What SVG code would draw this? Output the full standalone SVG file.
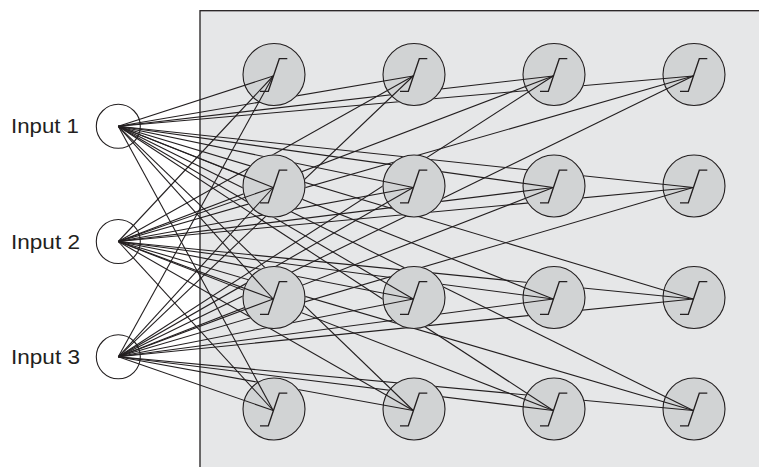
<svg xmlns="http://www.w3.org/2000/svg" xmlns:xlink="http://www.w3.org/1999/xlink" width="759" height="467" viewBox="0 0 759 467">
<style>
.box{fill:#e6e7e8;stroke:#231f20;stroke-width:1.3}
.input{fill:#ffffff;stroke:#231f20;stroke-width:1.1}
.neuron{fill:#d1d3d4;stroke:#231f20;stroke-width:1.1}
.sig{fill:none;stroke:#231f20;stroke-width:1.3}
.lbl{font-family:"Liberation Sans",Arial,sans-serif;font-size:21px;fill:#231f20}
.conn line{stroke:#231f20;stroke-width:1.1}
</style>
<defs>
<path id="sig" class="sig" d="M-14,16.8 H-5.7 L5.3,-15.8 H13.3"/>
<mask id="m2" maskUnits="userSpaceOnUse" x="0" y="0" width="759" height="467">
<rect x="0" y="0" width="759" height="467" fill="#fff"/>
<g fill="#000"><circle cx="274" cy="74.5" r="31.5"/><circle cx="274" cy="186" r="31.5"/><circle cx="274" cy="297.5" r="31.5"/><circle cx="274" cy="409" r="31.5"/></g>
</mask>
<mask id="m3" maskUnits="userSpaceOnUse" x="0" y="0" width="759" height="467">
<rect x="0" y="0" width="759" height="467" fill="#fff"/>
<g fill="#000"><circle cx="274" cy="74.5" r="31.5"/><circle cx="274" cy="186" r="31.5"/><circle cx="274" cy="297.5" r="31.5"/><circle cx="274" cy="409" r="31.5"/>
<circle cx="414" cy="74.5" r="31.5"/><circle cx="414" cy="186" r="31.5"/><circle cx="414" cy="297.5" r="31.5"/><circle cx="414" cy="409" r="31.5"/></g>
</mask>
<mask id="m4" maskUnits="userSpaceOnUse" x="0" y="0" width="759" height="467">
<rect x="0" y="0" width="759" height="467" fill="#fff"/>
<g fill="#000"><circle cx="274" cy="74.5" r="31.5"/><circle cx="274" cy="186" r="31.5"/><circle cx="274" cy="297.5" r="31.5"/><circle cx="274" cy="409" r="31.5"/>
<circle cx="414" cy="74.5" r="31.5"/><circle cx="414" cy="186" r="31.5"/><circle cx="414" cy="297.5" r="31.5"/><circle cx="414" cy="409" r="31.5"/>
<circle cx="554" cy="74.5" r="31.5"/><circle cx="554" cy="186" r="31.5"/><circle cx="554" cy="297.5" r="31.5"/><circle cx="554" cy="409" r="31.5"/></g>
</mask>
</defs>
<rect id="layer-box" class="box" x="200" y="10.7" width="600" height="500"/>
<g id="inputs">
<g id="input-1"><circle class="input" cx="118.3" cy="126.3" r="22"/><text class="lbl" x="11" y="133.3" textLength="68" lengthAdjust="spacingAndGlyphs">Input 1</text></g>
<g id="input-2"><circle class="input" cx="118.3" cy="241.5" r="22"/><text class="lbl" x="11" y="249" textLength="69" lengthAdjust="spacingAndGlyphs">Input 2</text></g>
<g id="input-3"><circle class="input" cx="118.3" cy="356.8" r="22"/><text class="lbl" x="11" y="363.5" textLength="69" lengthAdjust="spacingAndGlyphs">Input 3</text></g>
</g>
<g id="neurons">
<g id="n-c1-r1"><circle class="neuron" cx="274" cy="74.5" r="31"/><use xlink:href="#sig" href="#sig" transform="translate(274,74.5)"/></g>
<g id="n-c1-r2"><circle class="neuron" cx="274" cy="186" r="31"/><use xlink:href="#sig" href="#sig" transform="translate(274,186)"/></g>
<g id="n-c1-r3"><circle class="neuron" cx="274" cy="297.5" r="31"/><use xlink:href="#sig" href="#sig" transform="translate(274,297.5)"/></g>
<g id="n-c1-r4"><circle class="neuron" cx="274" cy="409" r="31"/><use xlink:href="#sig" href="#sig" transform="translate(274,409)"/></g>
<g id="n-c2-r1"><circle class="neuron" cx="414" cy="74.5" r="31"/><use xlink:href="#sig" href="#sig" transform="translate(414,74.5)"/></g>
<g id="n-c2-r2"><circle class="neuron" cx="414" cy="186" r="31"/><use xlink:href="#sig" href="#sig" transform="translate(414,186)"/></g>
<g id="n-c2-r3"><circle class="neuron" cx="414" cy="297.5" r="31"/><use xlink:href="#sig" href="#sig" transform="translate(414,297.5)"/></g>
<g id="n-c2-r4"><circle class="neuron" cx="414" cy="409" r="31"/><use xlink:href="#sig" href="#sig" transform="translate(414,409)"/></g>
<g id="n-c3-r1"><circle class="neuron" cx="554" cy="74.5" r="31"/><use xlink:href="#sig" href="#sig" transform="translate(554,74.5)"/></g>
<g id="n-c3-r2"><circle class="neuron" cx="554" cy="186" r="31"/><use xlink:href="#sig" href="#sig" transform="translate(554,186)"/></g>
<g id="n-c3-r3"><circle class="neuron" cx="554" cy="297.5" r="31"/><use xlink:href="#sig" href="#sig" transform="translate(554,297.5)"/></g>
<g id="n-c3-r4"><circle class="neuron" cx="554" cy="409" r="31"/><use xlink:href="#sig" href="#sig" transform="translate(554,409)"/></g>
<g id="n-c4-r1"><circle class="neuron" cx="694" cy="74.5" r="31"/><use xlink:href="#sig" href="#sig" transform="translate(694,74.5)"/></g>
<g id="n-c4-r2"><circle class="neuron" cx="694" cy="186" r="31"/><use xlink:href="#sig" href="#sig" transform="translate(694,186)"/></g>
<g id="n-c4-r3"><circle class="neuron" cx="694" cy="297.5" r="31"/><use xlink:href="#sig" href="#sig" transform="translate(694,297.5)"/></g>
<g id="n-c4-r4"><circle class="neuron" cx="694" cy="409" r="31"/><use xlink:href="#sig" href="#sig" transform="translate(694,409)"/></g>
</g>
<g id="connectors" class="conn">
<line x1="118.3" y1="126.3" x2="273.2" y2="76"/>
<line x1="118.3" y1="126.3" x2="273.2" y2="187.5"/>
<line x1="118.3" y1="126.3" x2="273.2" y2="299"/>
<line x1="118.3" y1="126.3" x2="273.2" y2="410.5"/>
<line x1="118.3" y1="241.5" x2="273.2" y2="76"/>
<line x1="118.3" y1="241.5" x2="273.2" y2="187.5"/>
<line x1="118.3" y1="241.5" x2="273.2" y2="299"/>
<line x1="118.3" y1="241.5" x2="273.2" y2="410.5"/>
<line x1="118.3" y1="356.8" x2="273.2" y2="76"/>
<line x1="118.3" y1="356.8" x2="273.2" y2="187.5"/>
<line x1="118.3" y1="356.8" x2="273.2" y2="299"/>
<line x1="118.3" y1="356.8" x2="273.2" y2="410.5"/>
<g mask="url(#m2)">
<line x1="118.3" y1="126.3" x2="413.2" y2="76"/>
<line x1="118.3" y1="126.3" x2="413.2" y2="187.5"/>
<line x1="118.3" y1="126.3" x2="413.2" y2="299"/>
<line x1="118.3" y1="126.3" x2="413.2" y2="410.5"/>
<line x1="118.3" y1="241.5" x2="413.2" y2="76"/>
<line x1="118.3" y1="241.5" x2="413.2" y2="187.5"/>
<line x1="118.3" y1="241.5" x2="413.2" y2="299"/>
<line x1="118.3" y1="241.5" x2="413.2" y2="410.5"/>
<line x1="118.3" y1="356.8" x2="413.2" y2="76"/>
<line x1="118.3" y1="356.8" x2="413.2" y2="187.5"/>
<line x1="118.3" y1="356.8" x2="413.2" y2="299"/>
<line x1="118.3" y1="356.8" x2="413.2" y2="410.5"/>
</g>
<g mask="url(#m3)">
<line x1="118.3" y1="126.3" x2="553.2" y2="76"/>
<line x1="118.3" y1="126.3" x2="553.2" y2="187.5"/>
<line x1="118.3" y1="126.3" x2="553.2" y2="299"/>
<line x1="118.3" y1="126.3" x2="553.2" y2="410.5"/>
<line x1="118.3" y1="241.5" x2="553.2" y2="76"/>
<line x1="118.3" y1="241.5" x2="553.2" y2="187.5"/>
<line x1="118.3" y1="241.5" x2="553.2" y2="299"/>
<line x1="118.3" y1="241.5" x2="553.2" y2="410.5"/>
<line x1="118.3" y1="356.8" x2="553.2" y2="76"/>
<line x1="118.3" y1="356.8" x2="553.2" y2="187.5"/>
<line x1="118.3" y1="356.8" x2="553.2" y2="299"/>
<line x1="118.3" y1="356.8" x2="553.2" y2="410.5"/>
</g>
<g mask="url(#m4)">
<line x1="118.3" y1="126.3" x2="693.2" y2="76"/>
<line x1="118.3" y1="126.3" x2="693.2" y2="187.5"/>
<line x1="118.3" y1="126.3" x2="693.2" y2="299"/>
<line x1="118.3" y1="126.3" x2="693.2" y2="410.5"/>
<line x1="118.3" y1="241.5" x2="693.2" y2="76"/>
<line x1="118.3" y1="241.5" x2="693.2" y2="187.5"/>
<line x1="118.3" y1="241.5" x2="693.2" y2="299"/>
<line x1="118.3" y1="241.5" x2="693.2" y2="410.5"/>
<line x1="118.3" y1="356.8" x2="693.2" y2="76"/>
<line x1="118.3" y1="356.8" x2="693.2" y2="187.5"/>
<line x1="118.3" y1="356.8" x2="693.2" y2="299"/>
<line x1="118.3" y1="356.8" x2="693.2" y2="410.5"/>
</g>
</g>
</svg>
